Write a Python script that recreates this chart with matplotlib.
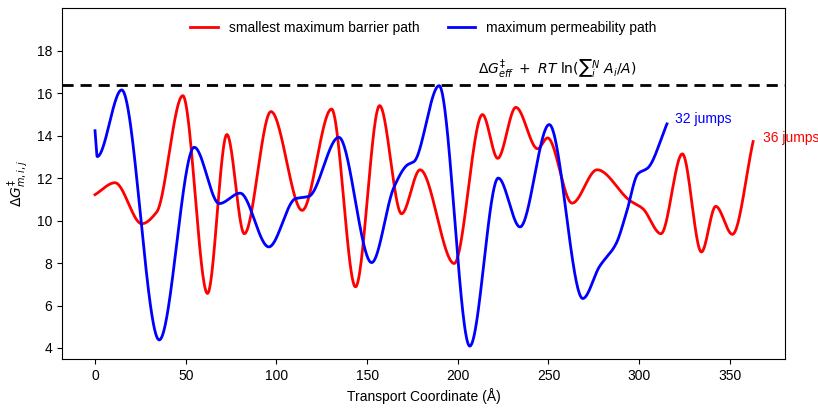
import numpy as np
import matplotlib
matplotlib.use("Agg")
import matplotlib.pyplot as plt

plt.rcParams['font.family'] = ['Liberation Sans', 'DejaVu Sans']
plt.rcParams['mathtext.fontset'] = 'dejavusans'

# Smallest maximum barrier path (red)
red_x = [0, 11, 25.8, 34, 48.4, 62, 72.7, 82.3, 97, 114.2, 130.4, 143.6, 156.9,
         169, 179.2, 198, 213.6, 222, 232, 244, 249.5, 263, 276.8, 294.7, 302,
         312, 323.8, 334.3, 342.2, 351.4, 362.8]
red_y = [11.22, 11.78, 9.85, 10.4, 15.88, 6.57, 14.05, 9.38, 15.13, 10.48, 15.25,
         6.88, 15.41, 10.32, 12.39, 7.98, 14.99, 12.93, 15.33, 13.38, 13.89, 10.82,
         12.39, 10.95, 10.56, 9.38, 13.14, 8.52, 10.67, 9.35, 13.72]

# Maximum permeability path (blue)
blue_x = [0, 1.2, 14.7, 35.4, 54.7, 68.5, 80, 95.8, 110.5, 117.9, 134.4, 152.5,
          164.8, 172.2, 175.9, 189.7, 206.6, 222.3, 234.3, 250.4, 268.9, 278,
          287.3, 292.8, 299.3, 304.8, 315.3]
blue_y = [14.23, 13.01, 16.15, 4.38, 13.45, 10.8, 11.29, 8.76, 11.03, 11.14, 13.92,
          8.02, 11.57, 12.62, 12.78, 16.35, 4.09, 12.0, 9.7, 14.52, 6.33, 7.82,
          8.92, 10.32, 12.2, 12.48, 14.55]

threshold = 16.4
labels = ["smallest maximum barrier path", "maximum permeability path"]
jump_labels = ["36 jumps", "32 jumps"]


def pchip(x, y, n=1500):
    x = np.asarray(x, float)
    y = np.asarray(y, float)
    h = np.diff(x)
    d = np.diff(y) / h
    m = np.zeros_like(y)
    for k in range(1, len(x) - 1):
        if d[k - 1] * d[k] > 0:
            w1 = 2 * h[k] + h[k - 1]
            w2 = h[k] + 2 * h[k - 1]
            m[k] = (w1 + w2) / (w1 / d[k - 1] + w2 / d[k])
    m[0] = d[0]
    m[-1] = d[-1]
    xs = np.linspace(x[0], x[-1], n)
    idx = np.clip(np.searchsorted(x, xs) - 1, 0, len(x) - 2)
    t = (xs - x[idx]) / h[idx]
    h00 = 2 * t**3 - 3 * t**2 + 1
    h10 = t**3 - 2 * t**2 + t
    h01 = -2 * t**3 + 3 * t**2
    h11 = t**3 - t**2
    ys = h00 * y[idx] + h10 * h[idx] * m[idx] + h01 * y[idx + 1] + h11 * h[idx] * m[idx + 1]
    return xs, ys


fig = plt.figure(figsize=(8.18, 4.08), dpi=100)
ax = fig.add_axes([0.0758, 0.120, 0.8839, 0.860])

rx, ry = pchip(red_x, red_y)
bx, by = pchip(blue_x, blue_y)
ax.plot(rx, ry, color='red', lw=2, label=labels[0])
ax.plot(bx, by, color='blue', lw=2, label=labels[1])
ax.axhline(threshold, color='black', ls='--', lw=2, dashes=(4, 2.5))

ax.text(255, 17.15, r'$\Delta G^{\ddagger}_{eff}\ +\ RT\ \ln(∑_i^N\ A_i/A)$',
        ha='center', va='center', fontsize=10)
ax.text(320, 14.76, jump_labels[1], color='blue', fontsize=10, va='center')
ax.text(368, 13.87, jump_labels[0], color='red', fontsize=10, va='center')

ax.set_xlim(-18.2, 380.4)
ax.set_ylim(3.48, 20)
ax.set_yticks([4, 6, 8, 10, 12, 14, 16, 18])
ax.set_xticks([0, 50, 100, 150, 200, 250, 300, 350])
ax.set_xlabel('Transport Coordinate (Å)', fontsize=10)
ax.set_ylabel(r'$\Delta G^{\ddagger}_{m,i,j}$', fontsize=10)
ax.tick_params(labelsize=10)
ax.legend(loc='upper center', ncol=2, frameon=False, fontsize=10,
          bbox_to_anchor=(0.5, 1.0))

fig.savefig('out.png', dpi=100)
